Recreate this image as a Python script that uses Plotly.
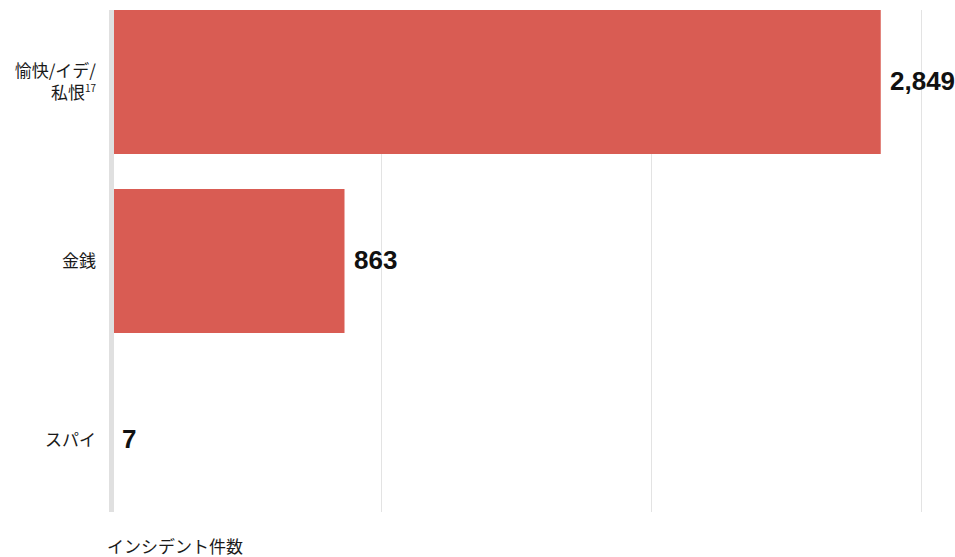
import plotly.graph_objects as go

# Incident motives and counts
categories = [
    "愉快/イデ/<br>私恨<sup><span style='font-size:10px'>17</span></sup>",
    "金銭",
    "スパイ",
]
counts = [2849, 863, 7]
count_labels = ["2,849", "863", "7"]

bar_color = "#d95c53"
grid_color = "#e3e3e3"
font_jp = "Noto Sans CJK JP, Noto Sans, sans-serif"
font_num = "Liberation Sans, Arial, sans-serif"
text_color = "#1a1a1a"

fig = go.Figure(
    go.Bar(
        y=categories,
        x=counts,
        orientation="h",
        marker=dict(color=bar_color, line=dict(width=0)),
        width=0.805,
        hoverinfo="skip",
    )
)

# Value labels just past each bar end
for cat, val, lab in zip(categories, counts, count_labels):
    fig.add_annotation(
        x=val, y=cat, xref="x", yref="y",
        text=f"<b>{lab}</b>", showarrow=False,
        xanchor="left", yanchor="middle", xshift=7, yshift=1,
        font=dict(family=font_num, size=26, color="#111111"),
    )

# Axis title at bottom-left
fig.add_annotation(
    xref="paper", yref="paper", x=0, y=-0.067,
    text="インシデント件数", showarrow=False,
    xanchor="left", yanchor="middle",
    font=dict(family=font_jp, size=17, color=text_color),
)

# Thick baseline at zero, drawn over the bars
fig.add_shape(
    type="line", xref="x", yref="y domain",
    x0=0, x1=0, y0=0, y1=1,
    line=dict(color="#e0e0e0", width=5),
    layer="above",
)

fig.update_layout(
    width=955, height=557,
    margin=dict(l=105, r=0, t=10, b=45),
    plot_bgcolor="white", paper_bgcolor="white",
    showlegend=False,
    font=dict(family=font_jp, size=17, color=text_color),
    xaxis=dict(
        range=[-24.07, 3124], dtick=1000, tick0=0,
        showgrid=True, gridcolor=grid_color, gridwidth=1,
        zeroline=False,
        showticklabels=False, ticks="", showline=False,
    ),
    yaxis=dict(
        type="category", categoryorder="array", categoryarray=categories,
        range=[2.402, -0.402],
        showgrid=False, zeroline=False, showline=False, ticks="",
        ticklabelstandoff=8,
        tickfont=dict(family=font_jp, size=17, color=text_color),
    ),
)

fig.write_html("out.html")
